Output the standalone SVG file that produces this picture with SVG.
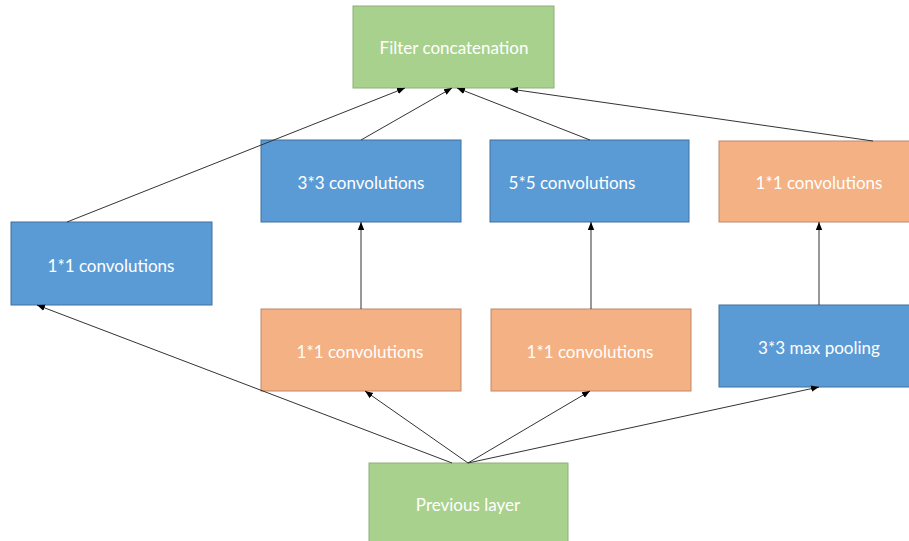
<svg xmlns="http://www.w3.org/2000/svg" width="909" height="541" viewBox="0 0 909 541">
<style>
.g{fill:#A9D18E;stroke:#8FAF78;stroke-width:1}
.b{fill:#5B9BD5;stroke:#41719C;stroke-width:1}
.o{fill:#F4B183;stroke:#C0876A;stroke-width:1}
text{font-family:Lato,"Open Sans","Liberation Sans",sans-serif;font-size:17px;fill:#fff;text-anchor:middle;dominant-baseline:central}
.c line{stroke:#333;stroke-width:1;marker-end:url(#ah)}
</style>
<defs>
<marker id="ah" viewBox="0 0 10 10" refX="10" refY="5" markerWidth="8" markerHeight="8" markerUnits="userSpaceOnUse" orient="auto">
<path d="M0,1 L10,5 L0,9 z" fill="#000"/>
</marker>
</defs>
<rect width="909" height="541" fill="#fff"/>
<g id="filter"><rect class="g" x="353" y="6" width="201" height="82"/><text x="454" y="47">Filter concatenation</text></g>
<g id="conv3"><rect class="b" x="261" y="140" width="200" height="82"/><text x="361" y="182">3*3 convolutions</text></g>
<g id="conv5"><rect class="b" x="490" y="140" width="199" height="82"/><text x="572" y="182">5*5 convolutions</text></g>
<g id="conv1r"><rect class="o" x="719" y="141" width="195" height="81"/><text x="819" y="182">1*1 convolutions</text></g>
<g id="conv1l"><rect class="b" x="11" y="222" width="201" height="83"/><text x="111" y="265">1*1 convolutions</text></g>
<g id="red3"><rect class="o" x="261" y="309" width="200" height="82"/><text x="360" y="351">1*1 convolutions</text></g>
<g id="red5"><rect class="o" x="491" y="309" width="200" height="82"/><text x="590" y="351">1*1 convolutions</text></g>
<g id="pool"><rect class="b" x="719" y="305" width="195" height="82"/><text x="819" y="347">3*3 max pooling</text></g>
<g id="prev"><rect class="g" x="369" y="463" width="199" height="85"/><text x="468" y="504">Previous layer</text></g>
<g class="c" id="connectors">
<line x1="67" y1="222" x2="405" y2="88"/>
<line x1="361" y1="140" x2="452" y2="88"/>
<line x1="590" y1="140" x2="457" y2="88"/>
<line x1="873" y1="141" x2="510" y2="89"/>
<line x1="361" y1="309" x2="361" y2="222"/>
<line x1="591" y1="309" x2="591" y2="222"/>
<line x1="819" y1="305" x2="819" y2="222"/>
<line x1="452" y1="463" x2="37" y2="305"/>
<line x1="468" y1="463" x2="365" y2="391"/>
<line x1="468" y1="463" x2="590" y2="391"/>
<line x1="468" y1="463" x2="819" y2="387"/>
</g>
</svg>
